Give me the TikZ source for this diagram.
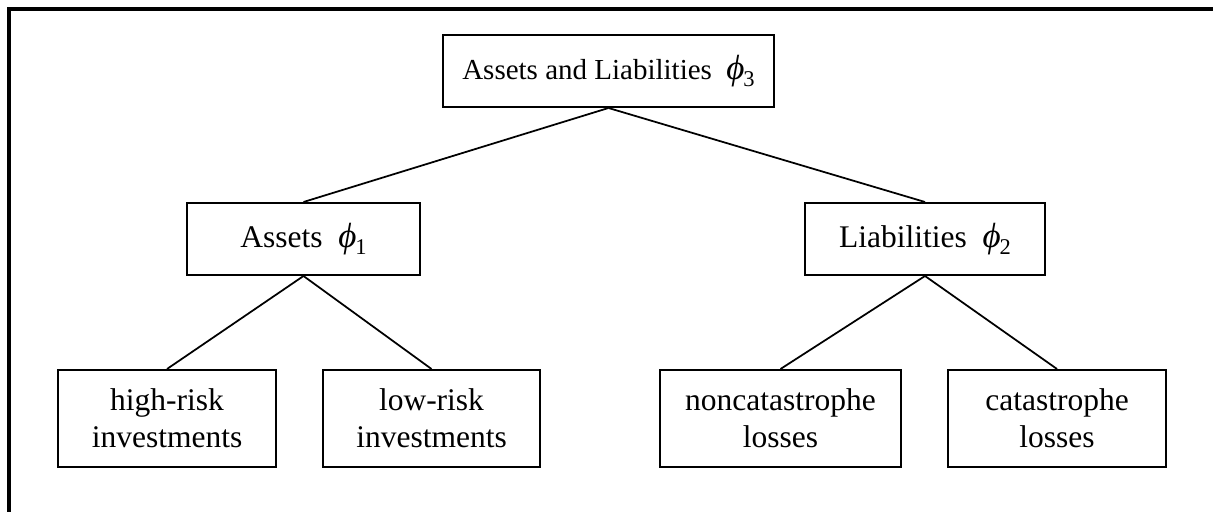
\documentclass[tikz,border=0pt]{standalone}
\usepackage{amsmath}
\usepackage{fontspec}
\setmainfont{Liberation Serif}
\usepackage{tikz}

\newcommand{\phiof}[1]{\hspace{0.25em}{\fontsize{14}{15}\selectfont\textit{ϕ}}\kern-0.04em\raisebox{-0.5ex}{\fontsize{9}{10}\selectfont #1}}

\tikzset{
  box/.style={draw, line width=0.8pt, align=center, inner sep=0pt,
    font=\fontsize{12.6}{14.8}\selectfont},
  topbox/.style={box, minimum height=28.8pt},
  leafbox/.style={box, minimum height=38.8pt},
  link/.style={line width=0.7pt}
}

\begin{document}
\begin{tikzpicture}[x=0.4pt, y=-0.4pt]
\useasboundingbox (0, 0) rectangle (1213, 512);
\draw[line width=1.6pt] (1213, 9) -- (9, 9) -- (9, 512);
\node[topbox, minimum width=132.4pt, font=\fontsize{11.6}{14.8}\selectfont] (all) at (608.5, 71) {Assets and Liabilities \phiof{3}};
\node[topbox, minimum width=93.2pt] (assets) at (303.5, 239) {Assets \phiof{1}};
\node[topbox, minimum width=96pt] (liab) at (925, 239) {Liabilities \phiof{2}};
\node[leafbox, minimum width=87.2pt] (high) at (167, 418.5) {high-risk\\investments};
\node[leafbox, minimum width=86.8pt] (low) at (431.5, 418.5) {low-risk\\investments};
\node[leafbox, minimum width=96.4pt] (noncat) at (780.5, 418.5) {noncatastrophe\\losses};
\node[leafbox, minimum width=87.2pt] (cat) at (1057, 418.5) {catastrophe\\losses};
\draw[link] (all.south) -- (assets.north);
\draw[link] (all.south) -- (liab.north);
\draw[link] (assets.south) -- (high.north);
\draw[link] (assets.south) -- (low.north);
\draw[link] (liab.south) -- (noncat.north);
\draw[link] (liab.south) -- (cat.north);
\end{tikzpicture}
\end{document}
